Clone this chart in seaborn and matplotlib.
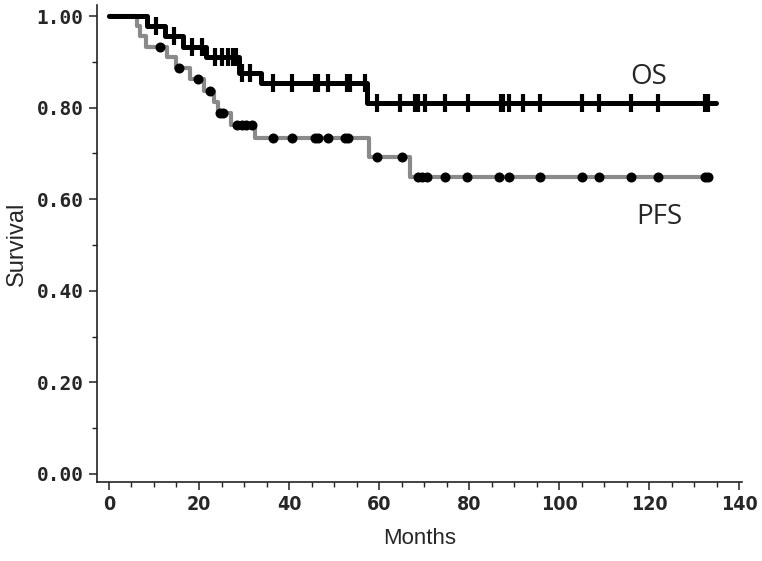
import numpy as np
import matplotlib
matplotlib.use("Agg")
import matplotlib.pyplot as plt
from matplotlib.ticker import MultipleLocator, FormatStrFormatter
import seaborn as sns
import pandas as pd

# ── Data ────────────────────────────────────────────────────────────────────
# step points (time in months, survival level after the step)
os_times = [0, 8.4, 12.5, 16.5, 21.5, 28.8, 33.8, 57.3]
os_surv = [1.0, 0.978, 0.956, 0.933, 0.910, 0.876, 0.854, 0.811]
os_censor = [10.5, 14.5, 18.5, 20.7, 23.5, 25.0, 26.5, 27.5, 28.3, 29.6, 31.4,
             36.5, 40.7, 45.8, 46.4, 48.7, 52.9, 53.6, 56.9, 59.6, 64.7, 68.0,
             68.7, 70.2, 74.7, 79.8, 87.1, 87.6, 88.9, 92.0, 95.8, 105.1, 108.9,
             116.0, 122.0, 132.4, 132.9]

pfs_times = [0, 6.2, 7.0, 8.2, 13.0, 15.0, 18.0, 21.0, 23.3, 24.2, 27.0,
             32.4, 57.8, 66.9]
pfs_surv = [1.0, 0.978, 0.956, 0.933, 0.910, 0.886, 0.862, 0.836, 0.812,
            0.788, 0.762, 0.734, 0.692, 0.648]
pfs_censor = [11.3, 15.6, 19.8, 22.4, 24.7, 25.4, 28.4, 29.5, 30.5, 31.8,
              36.4, 40.7, 45.8, 46.4, 48.7, 52.4, 53.1, 59.6, 65.0, 68.7,
              69.6, 70.7, 74.7, 79.6, 86.7, 88.9, 95.6, 105.1, 108.9, 116.0,
              122.0, 132.4, 133.0]

x_ticks = [0, 20, 40, 60, 80, 100, 120, 140]
y_ticks = [0.0, 0.2, 0.4, 0.6, 0.8, 1.0]


def step_frame(times, surv, end):
    t = list(times) + [end]
    s = list(surv) + [surv[-1]]
    return pd.DataFrame({"Months": t, "Survival": s})


def censor_frame(times, surv, censor):
    idx = np.searchsorted(times, censor, side="right") - 1
    return pd.DataFrame({"Months": censor, "Survival": np.asarray(surv)[idx]})


sns.set_style("ticks")
fig = plt.figure(figsize=(7.62, 5.61), dpi=100)
ax = fig.add_axes([0.127, 0.141, 0.847, 0.85])

# PFS — grey step line, black dot censor marks
sns.lineplot(data=step_frame(pfs_times, pfs_surv, max(pfs_censor)),
             x="Months", y="Survival", drawstyle="steps-post",
             color="#8a8a8a", linewidth=3.0, sort=False, estimator=None, ax=ax)
sns.scatterplot(data=censor_frame(pfs_times, pfs_surv, pfs_censor),
                x="Months", y="Survival", marker="o", s=52, color="black",
                edgecolor="black", linewidth=0, zorder=4, ax=ax)

# OS — black step line, tick censor marks
sns.lineplot(data=step_frame(os_times, os_surv, max(os_censor) + 1.8),
             x="Months", y="Survival", drawstyle="steps-post", color="black",
             linewidth=3.6, sort=False, estimator=None, ax=ax)
sns.scatterplot(data=censor_frame(os_times, os_surv, os_censor),
                x="Months", y="Survival", marker="|", s=150, color="black",
                linewidth=3, zorder=5, ax=ax)

ax.text(119.8, 0.867, "OS", fontsize=20, family="Open Sans",
        ha="center", va="center")
ax.text(122.3, 0.560, "PFS", fontsize=20, family="Open Sans",
        ha="center", va="center")

ax.set_xlim(-2.7, 140.6)
ax.set_ylim(-0.0175, 1.024)
ax.set_xticks(x_ticks)
ax.set_yticks(y_ticks)
ax.xaxis.set_minor_locator(MultipleLocator(5))
ax.yaxis.set_minor_locator(MultipleLocator(0.1))
ax.yaxis.set_major_formatter(FormatStrFormatter("%.2f"))

for sp in ["top", "right"]:
    ax.spines[sp].set_visible(False)
for sp in ["left", "bottom"]:
    ax.spines[sp].set_linewidth(1.2)
    ax.spines[sp].set_color("#222222")

ax.tick_params(which="major", length=6, width=1.1, color="#222222")
ax.tick_params(which="minor", length=3.5, width=1.0, color="#222222")
for lab in ax.get_yticklabels():
    lab.set_fontfamily("DejaVu Sans Mono")
    lab.set_fontweight("bold")
    lab.set_fontsize(14)
for lab in ax.get_xticklabels():
    lab.set_fontfamily("DejaVu Sans")
    lab.set_fontstretch("condensed")
    lab.set_fontweight("bold")
    lab.set_fontsize(14)

ax.set_xlabel("Months", fontsize=16, family="Liberation Sans", labelpad=10)
ax.set_ylabel("Survival", fontsize=17, family="Liberation Sans", labelpad=6)

fig.savefig("out.png", dpi=100, facecolor="white")
plt.close(fig)
